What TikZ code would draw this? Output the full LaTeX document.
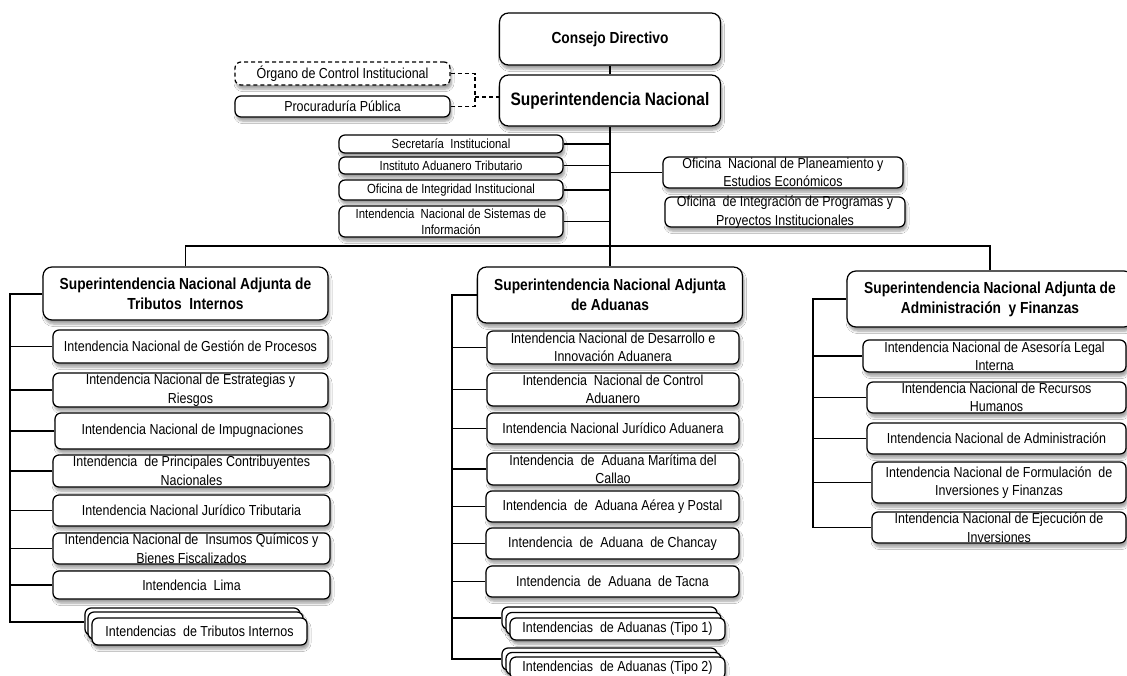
\documentclass[tikz,border=0pt]{standalone}
\usepackage{fontspec}
\setmainfont{Liberation Sans}[FakeStretch=0.86]
\usetikzlibrary{shadows.blur}
\tikzset{
  ob/.style={draw=black, line width=1.25pt, rounded corners=6pt, fill=white, align=center,
    inner xsep=0pt, inner ysep=-5pt,
    blur shadow={shadow xshift=1.5pt, shadow yshift=-4pt, shadow opacity=38, shadow blur steps=6, shadow blur radius=2.5pt}},
  bt/.style={ob, font=\fontsize{14.5}{18.5}\selectfont},
  st/.style={ob, font=\fontsize{13.2}{16}\selectfont},
  hd/.style={ob, font=\bfseries\fontsize{16}{20}\selectfont, rounded corners=9pt},
  conn/.style={line width=1.2pt},
  trunkline/.style={line width=2pt},
  dashline/.style={line width=1.1pt, dash pattern=on 4pt off 3pt},
}
\begin{document}
\begin{tikzpicture}[x=1pt,y=-1pt]
\fill[white] (0,0) rectangle (1127,675);
\useasboundingbox (0,0) rectangle (1127,675);
\clip (0,0) rectangle (1127,675);

% top
\node[hd, minimum width=221pt, minimum height=52pt] (cd) at (610,39) {Consejo Directivo};
\node[hd, font=\bfseries\fontsize{18}{20}\selectfont, minimum width=221pt, minimum height=51pt] (sn) at (610,100.5) {Superintendencia Nacional};
\node[bt, dashed, dash pattern=on 4pt off 3pt, minimum width=215pt, minimum height=23pt] (oci) at (342.5,73.5) {Órgano de Control Institucional};
\node[bt, minimum width=215pt, minimum height=21pt] (pp) at (342.5,106.5) {Procuraduría Pública};

\node[st, minimum width=224pt, minimum height=18pt] (sec) at (451,144) {Secretaría~ Institucional};
\node[st, minimum width=224pt, minimum height=17pt] (inst) at (451,165.5) {Instituto Aduanero Tributario};
\node[st, minimum width=224pt, minimum height=20pt] (integ) at (451,190) {Oficina de Integridad Institucional};
\node[st, minimum width=224pt, minimum height=31pt] (sist) at (451,221.5) {Intendencia~ Nacional de Sistemas de\\Información};
\node[bt, minimum width=240pt, minimum height=31pt] (plan) at (783,172.5) {Oficina~ Nacional de Planeamiento y\\Estudios Económicos};
\node[bt, minimum width=240pt, minimum height=30pt] (ipro) at (785,212) {Oficina~ de Integración de Programas y\\Proyectos Institucionales};

% headings
\node[hd, minimum width=285pt, minimum height=53pt] (tri) at (185.5,293.5) {Superintendencia Nacional Adjunta de\\Tributos~ Internos};
\node[hd, minimum width=265pt, minimum height=56pt] (adu) at (610,295) {Superintendencia Nacional Adjunta\\de Aduanas};
\node[hd, minimum width=286pt, minimum height=56pt] (adm) at (990,299) {Superintendencia Nacional Adjunta de\\Administración~ y Finanzas};

% left column
\node[bt, minimum width=275pt, minimum height=33pt] (g1) at (190.5,346.5) {Intendencia Nacional de Gestión de Procesos};
\node[bt, minimum width=275pt, minimum height=34pt] (g2) at (190.5,390) {Intendencia Nacional de Estrategias y\\Riesgos};
\node[bt, minimum width=275pt, minimum height=36pt] (g3) at (192.5,431) {Intendencia Nacional de Impugnaciones};
\node[bt, minimum width=277pt, minimum height=32pt] (g4) at (191.5,471) {Intendencia~ de Principales Contribuyentes\\Nacionales};
\node[bt, minimum width=277pt, minimum height=31pt] (g5) at (191.5,510.5) {Intendencia Nacional Jurídico Tributaria};
\node[bt, minimum width=277pt, minimum height=31pt] (g6) at (191.5,548.5) {Intendencia Nacional de~ Insumos Químicos y\\Bienes Fiscalizados};
\node[bt, minimum width=277pt, minimum height=28pt] (g7) at (191.5,585) {Intendencia~ Lima};
\node[bt, minimum width=215pt, minimum height=27pt] (ts3) at (192.5,621.5) {};
\node[bt, minimum width=215pt, minimum height=27pt] (ts2) at (195.5,625.5) {};
\node[bt, minimum width=215pt, minimum height=27pt] (ts1) at (199.5,631.5) {Intendencias~ de Tributos Internos};

% middle column
\node[bt, minimum width=252pt, minimum height=33pt] (a1) at (613,347.5) {Intendencia Nacional de Desarrollo e\\Innovación Aduanera};
\node[bt, minimum width=252pt, minimum height=33pt] (a2) at (613,389.5) {Intendencia~ Nacional de Control\\Aduanero};
\node[bt, minimum width=252pt, minimum height=31pt] (a3) at (613,428.5) {Intendencia Nacional Jurídico Aduanera};
\node[bt, minimum width=252pt, minimum height=32pt] (a4) at (613,469) {Intendencia~ de~ Aduana Marítima del\\Callao};
\node[bt, minimum width=253pt, minimum height=31pt] (a5) at (612.5,506.5) {Intendencia~ de~ Aduana Aérea y Postal};
\node[bt, minimum width=253pt, minimum height=31pt] (a6) at (612.5,543.5) {Intendencia~ de~ Aduana~ de Chancay};
\node[bt, minimum width=253pt, minimum height=31pt] (a7) at (612.5,581.5) {Intendencia~ de~ Aduana~ de Tacna};
\node[bt, minimum width=215pt, minimum height=22pt] (t13) at (609.5,618) {};
\node[bt, minimum width=215pt, minimum height=22pt] (t12) at (613.5,623.5) {};
\node[bt, minimum width=215pt, minimum height=22pt] (t11) at (617.5,629) {Intendencias~ de Aduanas (Tipo 1)};
\node[bt, minimum width=215pt, minimum height=22pt] (t23) at (609.5,659) {};
\node[bt, minimum width=215pt, minimum height=22pt] (t22) at (613.5,663.5) {};
\node[bt, minimum width=215pt, minimum height=22pt] (t21) at (617.5,668) {Intendencias~ de Aduanas (Tipo 2)};

% right column
\node[bt, minimum width=263pt, minimum height=32pt] (r1) at (994.5,356) {Intendencia Nacional de Asesoría Legal\\Interna};
\node[bt, minimum width=259pt, minimum height=31pt] (r2) at (996.5,397.5) {Intendencia Nacional de Recursos\\Humanos};
\node[bt, minimum width=259pt, minimum height=31pt] (r3) at (996.5,438.5) {Intendencia Nacional de Administración};
\node[bt, minimum width=254pt, minimum height=41pt] (r4) at (999,482.5) {Intendencia Nacional de Formulación~ de\\Inversiones y Finanzas};
\node[bt, minimum width=254pt, minimum height=31pt] (r5) at (999,527.5) {Intendencia Nacional de Ejecución de\\Inversiones};

% helper coordinates
\coordinate (lx) at (10,0);
\coordinate (mx) at (452,0);
\coordinate (rx) at (813,0);
\coordinate (hb) at (0,246);
\coordinate (dj) at (475,97);

% connectors
\draw[conn] (cd.south) -- (sn.north);
\draw[trunkline] (sn.south) -- (adu.north);
\draw[dashline] (oci.east) -| (dj) |- (pp.east);
\draw[dashline] (dj) -- (dj -| sn.west);
\foreach \s in {sec,inst,integ,sist} \draw[conn] (\s.east) -- (\s.east -| sn.south);
\draw[conn] (plan.west) -- (plan.west -| sn.south);
\draw[conn] (tri.north) -- (tri.north |- hb) -- (adm.north |- hb) -- (adm.north);

\draw[trunkline] (tri.west) -| (ts3.west -| lx) -- (ts3.west);
\foreach \n in {g1,g2,g3,g4,g5,g6,g7} \draw[conn] (\n.west) -- (\n.west -| lx);

\draw[conn] (adu.west) -| (t23.west -| mx) -- (t23.west);
\foreach \n in {a1,a2,a3,a4,a5,a6,a7,t13} \draw[conn] (\n.west) -- (\n.west -| mx);

\draw[conn] (adm.west) -| (r5.west -| rx) -- (r5.west);
\foreach \n in {r1,r2,r3,r4} \draw[conn] (\n.west) -- (\n.west -| rx);
\end{tikzpicture}
\end{document}
